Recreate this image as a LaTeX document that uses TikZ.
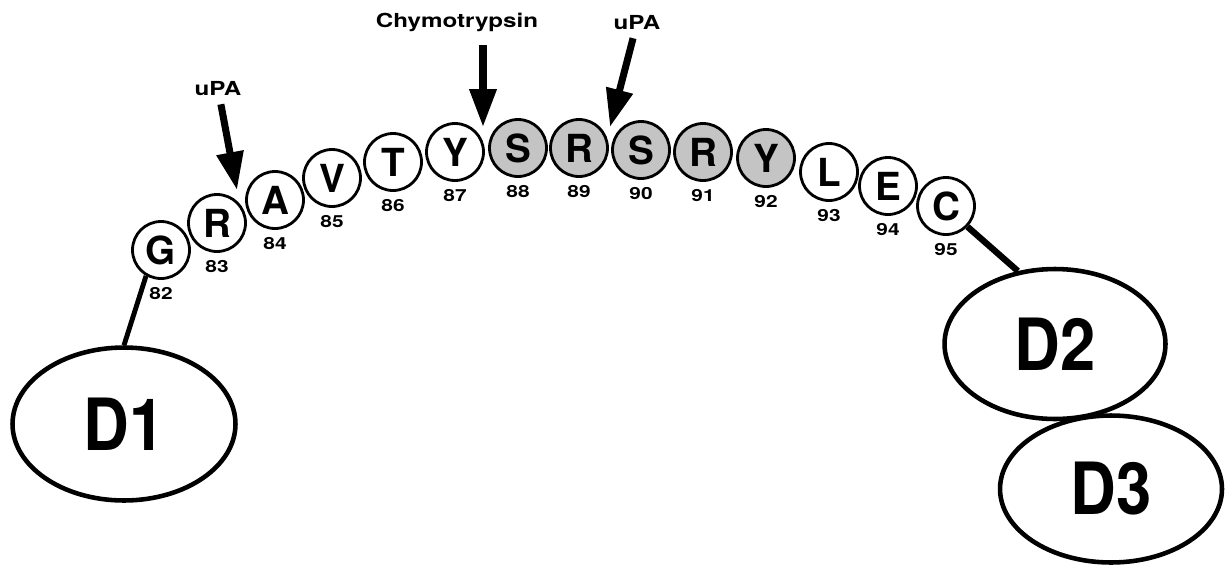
\documentclass[tikz,border=0pt]{standalone}
\usepackage{fontspec}
\setmainfont{TeX Gyre Heros}
\newfontfamily\widefont[FakeStretch=1.25]{TeX Gyre Heros}
\newfontfamily\narrowfont[FakeStretch=0.88]{TeX Gyre Heros}
\usepackage{tikz}
\usetikzlibrary{arrows.meta,positioning,shapes.geometric}
\definecolor{siteGrey}{HTML}{C4C4C4}
\tikzset{
  residue/.style={circle, draw=black, fill=white, line width=1.6pt, minimum size=1.14cm, inner sep=0pt, font=\fontsize{22}{22}\selectfont\bfseries},
  siteresidue/.style={residue, fill=siteGrey},
  numlabel/.style={font=\widefont\fontsize{9.5}{10}\selectfont\bfseries, inner sep=1pt},
  enzlabel/.style={font=\widefont\fontsize{11}{12}\selectfont\bfseries, inner sep=1.5pt},
  domainblob/.style={ellipse, draw=black, fill=white, line width=2.6pt, inner sep=0pt, font=\narrowfont\fontsize{41}{41}\selectfont\bfseries},
  cutarrow/.style={-{Triangle[length=7.6mm,width=5.2mm]}, line width=4pt, shorten <=3pt},
  linkline/.style={line width=2.8pt},
}

\begin{document}
\begin{tikzpicture}[x=0.02cm,y=-0.02cm]
  \useasboundingbox (0,0) rectangle (1229,575);

  % --- linker residues 82-95 ---
  \node[residue] (g82) at (161,250) {G};
  \node[residue] (r83) at (217,223) {R};
  \node[residue] (a84) at (275,200) {A};
  \node[residue] (v85) at (332,178) {V};
  \node[residue] (t86) at (393,162) {T};
  \node[residue] (y87) at (455,152) {Y};
  \node[siteresidue] (s88) at (518,148) {S};
  \node[siteresidue] (r89) at (579,148) {R};
  \node[siteresidue] (s90) at (641,150) {S};
  \node[siteresidue] (r91) at (703,152) {R};
  \node[siteresidue] (y92) at (766,158) {Y};
  \node[residue] (l93) at (829,172) {L};
  \node[residue] (e94) at (888,186) {E};
  \node[residue] (c95) at (946,206) {C};

  \node[numlabel, below=3pt of g82] (n82) {82};
  \node[numlabel, below=3pt of r83] (n83) {83};
  \node[numlabel, below=3pt of a84] (n84) {84};
  \node[numlabel, below=3pt of v85] (n85) {85};
  \node[numlabel, below=3pt of t86] (n86) {86};
  \node[numlabel, below=3pt of y87] (n87) {87};
  \node[numlabel, below=3pt of s88] (n88) {88};
  \node[numlabel, below=3pt of r89] (n89) {89};
  \node[numlabel, below=3pt of s90] (n90) {90};
  \node[numlabel, below=3pt of r91] (n91) {91};
  \node[numlabel, below=3pt of y92] (n92) {92};
  \node[numlabel, below=3pt of l93] (n93) {93};
  \node[numlabel, below=3pt of e94] (n94) {94};
  \node[numlabel, below=3pt of c95] (n95) {95};

  % --- domains ---
  \node[domainblob, minimum width=4.46cm, minimum height=3.06cm] (d1) at (124,424) {D1};
  \node[domainblob, minimum width=4.42cm, minimum height=3.0cm] (d2) at (1055,344) {D2};
  \node[domainblob, minimum width=4.44cm, minimum height=2.94cm] (d3) at (1111,489) {D3};

  \draw[linkline] (g82.240) -- (d1.north);
  \draw[linkline, line width=3.6pt] (c95.-44) -- (d2.117);

  % --- cleavage sites ---
  \node[enzlabel] (upa1) at (218,89) {uPA};
  \node[enzlabel] (chymo) at (457,22) {Chymotrypsin};
  \node[enzlabel] (upa2) at (637,23) {uPA};

  \coordinate (cut1) at (237,190);
  \coordinate (cut2) at (483,127);
  \coordinate (cut3) at (610,127);

  \draw[cutarrow] (upa1) -- (cut1);
  \draw[cutarrow, shorten <=6pt] (chymo.south -| cut2) -- (cut2);
  \draw[cutarrow] (upa2) -- (cut3);
\end{tikzpicture}
\end{document}
